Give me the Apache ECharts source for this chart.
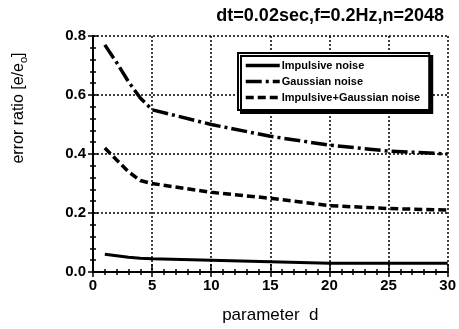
<!DOCTYPE html>
<html>
<head>
<meta charset="utf-8">
<script src="https://cdn.jsdelivr.net/npm/echarts@6/dist/echarts.min.js"></script>
<style>
  html, body { margin: 0; padding: 0; background: #fff; }
  #main { width: 459px; height: 329px; }
</style>
</head>
<body>
<div id="main"></div>
<script>
// 数据
var dValues = [1, 2, 3, 4, 5, 10, 15, 20, 25, 30];
var impulsive = [0.06, 0.055, 0.05, 0.047, 0.045, 0.04, 0.035, 0.03, 0.03, 0.03];
var gaussian = [0.77, 0.71, 0.645, 0.59, 0.55, 0.50, 0.46, 0.43, 0.41, 0.40];
var impGauss = [0.42, 0.38, 0.34, 0.31, 0.30, 0.27, 0.25, 0.225, 0.215, 0.21];
var seriesNames = ['Impulsive noise', 'Gaussian noise', 'Impulsive+Gaussian noise'];

function pairs(ys) {
    return dValues.map(function (d, i) { return [d, ys[i]]; });
}

var font = '"Liberation Sans", Arial, sans-serif';
var myChart = echarts.init(document.getElementById('main'));

var option = {
    animation: false,
    backgroundColor: '#fff',
    title: {
        text: 'dt=0.02sec,f=0.2Hz,n=2048',
        right: 10,
        top: 2,
        textStyle: { fontFamily: font, fontSize: 18, fontWeight: 'bold', color: '#000' }
    },
    legend: {
        data: seriesNames,
        orient: 'vertical',
        left: 238,
        top: 53,
        itemWidth: 34,
        itemHeight: 12,
        itemGap: 5,
        padding: [7, 9, 7, 6],
        backgroundColor: '#fff',
        borderColor: '#000',
        borderWidth: 2,
        shadowColor: '#000',
        shadowBlur: 0,
        shadowOffsetX: 3,
        shadowOffsetY: 3,
        itemStyle: { color: 'rgba(0,0,0,0)', borderWidth: 0 },
        lineStyle: { width: 3.5 },
        textStyle: { fontFamily: font, fontSize: 11, fontWeight: 'bold', color: '#000', padding: [0, 0, 0, -3] }
    },
    grid: { left: 93, right: 11, top: 36, bottom: 46 },
    xAxis: [{
        type: 'value',
        min: 0, max: 30, interval: 5,
        name: 'parameter  d',
        nameLocation: 'middle',
        nameGap: 35,
        nameTextStyle: { fontFamily: font, fontSize: 17, color: '#000' },
        axisLine: { lineStyle: { color: '#000', width: 2 } },
        axisTick: { inside: true, length: 8, lineStyle: { width: 1.5, color: '#000' } },
        minorTick: { show: true, splitNumber: 5, length: 3, lineStyle: { width: 1.5, color: '#000' } },
        axisLabel: { fontFamily: font, fontSize: 15, fontWeight: 'bold', color: '#000', margin: 6 },
        splitLine: { show: true, lineStyle: { type: [2, 2], color: '#000', width: 1.5 } }
    }, {
        type: 'value', position: 'top',
        min: 0, max: 30, interval: 5,
        axisLine: { show: true, lineStyle: { color: '#000', width: 2 } },
        axisTick: { inside: true, length: 5, lineStyle: { width: 1.5, color: '#000' } },
        minorTick: { show: true, splitNumber: 5, length: 3, lineStyle: { width: 1.5, color: '#000' } },
        axisLabel: { show: false },
        splitLine: { show: false }
    }],
    yAxis: [{
        type: 'value',
        min: 0, max: 0.8, interval: 0.2,
        name: 'error ratio [e/e{sub|o}]',
        nameLocation: 'middle',
        nameGap: 64,
        nameTextStyle: {
            fontFamily: font, fontSize: 16, color: '#000',
            padding: [0, 0, 0, 92],
            rich: { sub: { fontFamily: font, fontSize: 11, color: '#000', verticalAlign: 'bottom', padding: [10, 0, 0, 0] } }
        },
        axisLine: { lineStyle: { color: '#000', width: 2 } },
        axisTick: { inside: true, length: 5, lineStyle: { width: 1.5, color: '#000' } },
        minorTick: { show: true, splitNumber: 5, length: 3, lineStyle: { width: 1.5, color: '#000' } },
        axisLabel: { fontFamily: font, fontSize: 15, fontWeight: 'bold', color: '#000', margin: 7, formatter: function (v) { return v.toFixed(1); } },
        splitLine: { show: true, lineStyle: { type: [2, 2], color: '#000', width: 1.5 } }
    }, {
        type: 'value', position: 'right',
        min: 0, max: 0.8, interval: 0.2,
        axisLine: { show: true, lineStyle: { color: '#000', width: 2 } },
        axisTick: { inside: true, length: 5, lineStyle: { width: 1.5, color: '#000' } },
        minorTick: { show: true, splitNumber: 5, length: 3, lineStyle: { width: 1.5, color: '#000' } },
        axisLabel: { show: false },
        splitLine: { show: false }
    }],
    series: [{
        name: seriesNames[0],
        type: 'line',
        symbol: 'none',
        data: pairs(impulsive),
        lineStyle: { color: '#000', width: 3, type: 'solid' },
        itemStyle: { color: '#000' }
    }, {
        name: seriesNames[1],
        type: 'line',
        symbol: 'none',
        data: pairs(gaussian),
        lineStyle: { color: '#000', width: 3.5, type: [16, 4, 3, 4] },
        itemStyle: { color: '#000' }
    }, {
        name: seriesNames[2],
        type: 'line',
        symbol: 'none',
        data: pairs(impGauss),
        lineStyle: { color: '#000', width: 3.5, type: [8, 4] },
        itemStyle: { color: '#000' }
    }]
};

myChart.setOption(option);
</script>
</body>
</html>
